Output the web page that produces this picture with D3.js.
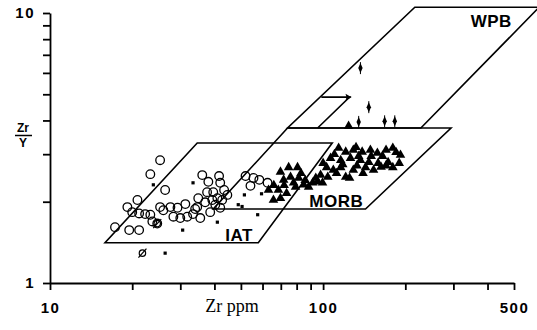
<!DOCTYPE html>
<html>
<head>
<meta charset="utf-8">
<script src="https://cdn.jsdelivr.net/npm/d3@7"></script>
<style>
  body { margin: 0; background: #fff; }
  text { font-family: "Liberation Sans", Arial, sans-serif; font-weight: bold; }
</style>
</head>
<body>
<svg id="chart" width="537" height="330"></svg>
<script>
// tectonic fields, [Zr ppm, Zr/Y] corners
const iatField = [[15.9, 1.41], [57.9, 1.41], [108, 3.30], [34.6, 3.30]];
const morbField = [[39.6, 1.88], [143, 1.88], [294, 3.75], [74.1, 3.75]];
const wpbField = [[74.1, 3.75], [228, 3.75], [618, 10.5], [216.7, 10.5]];
const wpbInner = [[98.5, 4.88], [125, 4.88], [95.5, 3.75]];

const fieldNames = ["IAT", "MORB", "WPB"];
const fieldLabelPos = [[43.8, 1.41], [89, 1.88], [347, 8.75]];

// samples, [Zr ppm, Zr/Y]
const openCircles = [
  [25.3, 2.85], [23.3, 2.53], [26.4, 2.21], [20.9, 2.03], [19.2, 1.91], [21.2, 1.81],
  [22.3, 1.80], [17.3, 1.61], [19.5, 1.57], [21.2, 1.57], [23.7, 1.69], [24.7, 1.66],
  [26.0, 1.86], [27.6, 1.91], [29.3, 1.90], [31.3, 1.96], [28.3, 1.76], [30.0, 1.74],
  [31.8, 1.76], [33.4, 1.80], [34.6, 1.91], [34.9, 2.06], [36.1, 2.51], [35.5, 1.74],
  [37.6, 2.17], [37.0, 1.99], [39.6, 2.17], [38.6, 1.83], [41.0, 2.06], [42.0, 2.35],
  [42.0, 1.90], [40.3, 1.95], [38.0, 2.37], [43.4, 2.21], [39.3, 2.03], [34.0, 1.88],
  [42.7, 2.03], [44.6, 2.12], [41.6, 2.49], [25.3, 1.91], [20.0, 1.83], [23.3, 1.79],
  [52.0, 2.49], [55.6, 2.45], [58.4, 2.41], [62.6, 2.35], [54.2, 2.29]
];

const smallSquares = [
  [23.9, 2.31], [33.4, 2.35], [30.6, 1.57], [41.0, 1.68], [26.4, 1.29], [48.9, 1.95],
  [57.6, 1.79], [51.5, 2.12], [59.5, 2.14], [50.5, 1.92]
];

const slashedCircles = [[21.8, 1.29], [24.7, 1.66]];

const triangles = [
  [69.8, 2.58], [74.8, 2.68], [80.6, 2.68], [76.0, 2.47], [81.4, 2.45], [71.7, 2.41],
  [79.3, 2.27], [68.6, 2.21], [69.8, 2.06], [63.1, 2.21], [65.8, 2.03], [73.5, 2.15],
  [85.0, 2.31], [66, 2.30], [72, 2.30], [78, 2.35], [83, 2.55], [86, 2.40],
  [114, 3.16], [121, 3.06], [129, 3.11], [139, 3.06], [149, 3.11], [158, 3.03],
  [180, 3.16], [192, 2.98], [106.5, 2.90], [116, 2.85], [126, 2.90], [137, 2.85],
  [147, 2.80], [159, 2.78], [173, 2.80], [190, 2.78], [100, 2.78], [103, 2.68],
  [109, 2.62], [116, 2.68], [129, 2.62], [143, 2.68], [153, 2.62], [163, 2.69],
  [97.9, 2.51], [104, 2.47], [121, 2.47], [95.5, 2.37], [91.6, 2.35], [99.5, 2.35],
  [88.5, 2.27], [132, 3.18], [170, 3.11], [180, 2.68], [124, 3.81],
  [110, 3.00], [135, 2.95], [150, 2.95], [165, 2.95], [185, 3.05], [118, 2.75],
  [133, 2.72], [170, 2.72], [112, 2.55], [125, 2.45], [140, 2.55], [94, 2.45]
];

const spindles = [[137, 6.25], [147, 4.48], [135, 3.95], [168, 3.97], [183, 3.97]];
const arrowMark = [[126, 4.88]];

const xTicks = [10, 20, 30, 40, 50, 60, 70, 80, 90, 100, 200, 300, 400, 500];
const xTickLabels = [10, 100, 500];
const yTicks = [1, 2, 3, 4, 5, 6, 7, 8, 9, 10];
const yTickLabels = [1, 10];

const svg = d3.select("#chart");

const x = d3.scaleLog().domain([10, 500]).range([50, 514]);
const y = d3.scaleLog().domain([1, 10]).range([283, 13]);

// axes
const xAxis = d3.axisBottom(x)
  .tickValues(xTicks)
  .tickFormat(d => xTickLabels.includes(d) ? d : "")
  .tickSize(7).tickSizeOuter(0).tickPadding(12);
const yAxis = d3.axisLeft(y)
  .tickValues(yTicks)
  .tickFormat(d => yTickLabels.includes(d) ? d : "")
  .tickSize(7).tickSizeOuter(0).tickPadding(8);

const gx = svg.append("g").attr("transform", "translate(0,283)").call(xAxis);
const gy = svg.append("g").attr("transform", "translate(50,0)").call(yAxis);
[gx, gy].forEach(g => {
  g.select(".domain").attr("stroke", "#000").attr("stroke-width", 1.8);
  g.selectAll(".tick line").attr("stroke", "#000").attr("stroke-width", 1.8);
  g.selectAll(".tick text").attr("fill", "#000")
    .style("font-size", "15px").style("letter-spacing", "1.5px");
});

// axis titles
svg.append("text")
  .attr("x", 232).attr("y", 312)
  .attr("text-anchor", "middle")
  .style("font-family", "'Liberation Serif', 'Times New Roman', serif")
  .style("font-weight", "normal")
  .style("font-size", "18px")
  .text("Zr ppm");

svg.append("text").attr("x", 23).attr("y", 132).attr("text-anchor", "middle")
  .style("font-size", "12px").text("Zr");
svg.append("line").attr("x1", 15).attr("x2", 32).attr("y1", 135.5).attr("y2", 135.5)
  .attr("stroke", "#000").attr("stroke-width", 1.5);
svg.append("text").attr("x", 23).attr("y", 147).attr("text-anchor", "middle")
  .style("font-size", "12px").text("Y");

// fields
const line = d3.line().x(d => x(d[0])).y(d => y(d[1]));
[iatField, morbField, wpbField].forEach(f => {
  svg.append("path")
    .attr("d", line(f) + "Z")
    .attr("fill", "none")
    .attr("stroke", "#000")
    .attr("stroke-width", 1.6)
    .attr("stroke-linejoin", "miter");
});
svg.append("path")
  .attr("d", line(wpbInner))
  .attr("fill", "none").attr("stroke", "#000").attr("stroke-width", 1.6);

svg.selectAll(".field-label")
  .data(fieldNames)
  .join("text")
  .attr("class", "field-label")
  .attr("x", (d, i) => x(fieldLabelPos[i][0]))
  .attr("y", (d, i) => y(fieldLabelPos[i][1]) - 1.5)
  .style("font-size", "17px")
  .style("letter-spacing", "0.5px")
  .text(d => d);

// samples
svg.selectAll(".circ")
  .data(openCircles)
  .join("circle")
  .attr("class", "circ")
  .attr("cx", d => x(d[0]))
  .attr("cy", d => y(d[1]))
  .attr("r", 4.3)
  .attr("fill", "none")
  .attr("stroke", "#000")
  .attr("stroke-width", 1.3);

svg.selectAll(".sq")
  .data(smallSquares)
  .join("rect")
  .attr("class", "sq")
  .attr("x", d => x(d[0]) - 1.6)
  .attr("y", d => y(d[1]) - 1.6)
  .attr("width", 3.2)
  .attr("height", 3.2)
  .attr("fill", "#000");

const slash = svg.selectAll(".slash")
  .data(slashedCircles)
  .join("g")
  .attr("class", "slash")
  .attr("transform", d => `translate(${x(d[0])},${y(d[1])})`);
slash.append("circle").attr("r", 3.2).attr("fill", "none").attr("stroke", "#000").attr("stroke-width", 1.2);
slash.append("line").attr("x1", -4).attr("y1", 4.5).attr("x2", 4).attr("y2", -4.5)
  .attr("stroke", "#000").attr("stroke-width", 1.2);

const tri = d3.symbol().type(d3.symbolTriangle).size(40);
svg.selectAll(".tri")
  .data(triangles)
  .join("path")
  .attr("class", "tri")
  .attr("transform", d => `translate(${x(d[0])},${y(d[1])})`)
  .attr("d", tri)
  .attr("fill", "#000");

const sp = svg.selectAll(".spindle")
  .data(spindles)
  .join("g")
  .attr("class", "spindle")
  .attr("transform", d => `translate(${x(d[0])},${y(d[1])})`);
sp.append("path").attr("d", "M0,-5 L2.2,0 L0,5 L-2.2,0Z").attr("fill", "#000");
sp.append("line").attr("x1", 0).attr("x2", 0).attr("y1", -6).attr("y2", 6)
  .attr("stroke", "#000").attr("stroke-width", 1);

svg.selectAll(".arrow")
  .data(arrowMark)
  .join("path")
  .attr("class", "arrow")
  .attr("transform", d => `translate(${x(d[0])},${y(d[1])})`)
  .attr("d", "M1,0 L-5,-3.5 L-4,0 L-5,3.5Z")
  .attr("fill", "#000");
</script>
</body>
</html>
